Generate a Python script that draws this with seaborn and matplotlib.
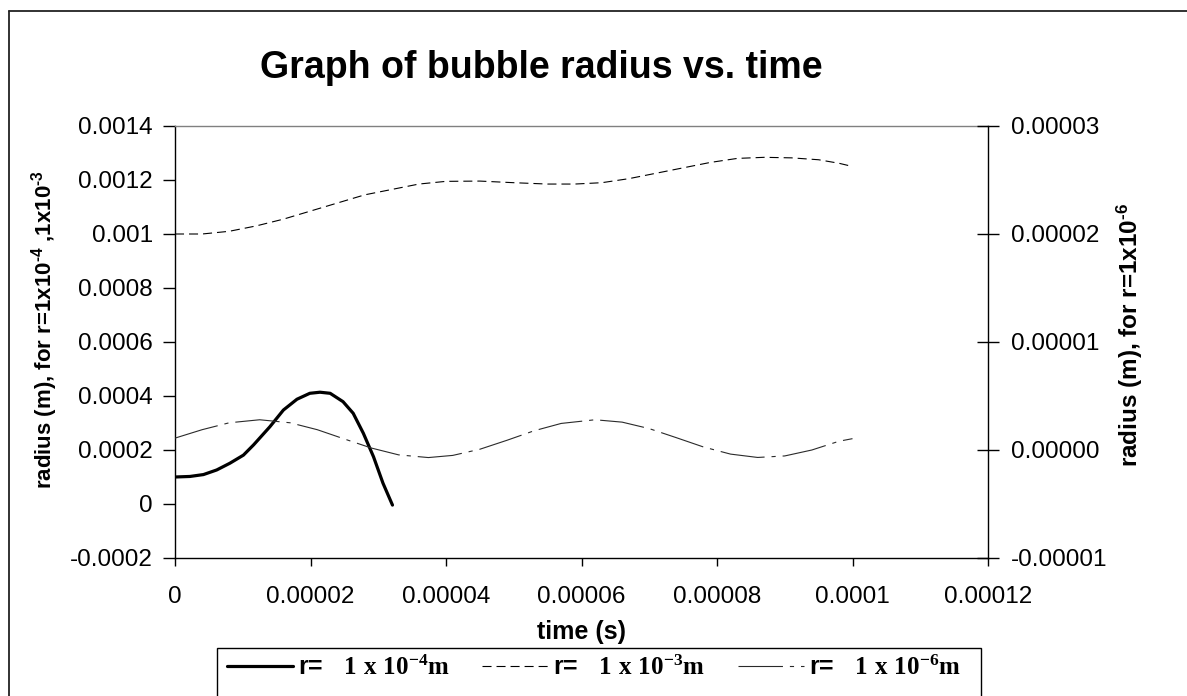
import matplotlib
matplotlib.use("Agg")
import matplotlib.pyplot as plt
import seaborn as sns
from matplotlib.ticker import FixedLocator, FuncFormatter
from matplotlib.patches import Rectangle
from matplotlib.lines import Line2D

# ---------------- data ----------------
# r = 1e-4 m bubble (left axis)
t_1e4 = [0, 2.2e-6, 4.2e-6, 6.15e-6, 8.1e-6, 10.1e-6, 11.6e-6, 14.0e-6, 16.0e-6,
         18.0e-6, 19.9e-6, 21.4e-6, 22.9e-6, 24.8e-6, 26.3e-6, 27.8e-6, 29.3e-6,
         30.7e-6, 32.1e-6]
r_1e4 = [1.00e-4, 1.02e-4, 1.09e-4, 1.26e-4, 1.51e-4, 1.81e-4, 2.19e-4, 2.86e-4,
         3.48e-4, 3.88e-4, 4.10e-4, 4.14e-4, 4.10e-4, 3.79e-4, 3.36e-4, 2.62e-4,
         1.75e-4, 0.77e-4, -0.04e-4]

# r = 1e-3 m bubble (left axis)
t_1e3 = [0, 4e-6, 8e-6, 12e-6, 16e-6, 20e-6, 24e-6, 28e-6, 32e-6, 36e-6, 40e-6,
         45e-6, 50e-6, 55e-6, 59e-6, 63e-6, 67e-6, 71e-6, 75e-6, 79e-6, 83e-6,
         87e-6, 91e-6, 95e-6, 98e-6, 100e-6]
r_1e3 = [1.000e-3, 1.000e-3, 1.010e-3, 1.030e-3, 1.055e-3, 1.085e-3, 1.115e-3,
         1.145e-3, 1.165e-3, 1.185e-3, 1.195e-3, 1.196e-3, 1.190e-3, 1.185e-3,
         1.185e-3, 1.190e-3, 1.205e-3, 1.225e-3, 1.245e-3, 1.265e-3, 1.280e-3,
         1.284e-3, 1.282e-3, 1.275e-3, 1.262e-3, 1.250e-3]

# r = 1e-6 m bubble (right axis)
t_1e6 = [0, 4e-6, 8e-6, 12.5e-6, 17e-6, 21e-6, 25e-6, 29e-6, 33e-6, 37.4e-6,
         41e-6, 45e-6, 49e-6, 53e-6, 57e-6, 62e-6, 66e-6, 70e-6, 74e-6, 78e-6,
         82e-6, 86e-6, 90e-6, 94e-6, 98e-6, 100e-6]
r_1e6 = [1.10e-6, 1.88e-6, 2.52e-6, 2.80e-6, 2.52e-6, 1.88e-6, 1.02e-6, 0.18e-6,
         -0.45e-6, -0.70e-6, -0.50e-6, 0.07e-6, 0.90e-6, 1.78e-6, 2.46e-6,
         2.80e-6, 2.58e-6, 1.98e-6, 1.14e-6, 0.28e-6, -0.38e-6, -0.69e-6,
         -0.55e-6, 0.00e-6, 0.81e-6, 1.05e-6]

x_ticks = [0, 0.00002, 0.00004, 0.00006, 0.00008, 0.0001, 0.00012]
y_left_ticks = [-0.0002, 0, 0.0002, 0.0004, 0.0006, 0.0008, 0.001, 0.0012, 0.0014]
y_right_ticks = [-0.00001, 0.0, 0.00001, 0.00002, 0.00003]

title = "Graph of bubble radius vs. time"
x_label = "time (s)"
y_left_label = r"radius (m), for r=1x10$^{\text{-}4}$ ,1x10$^{\text{-}3}$"
y_right_label = r"radius (m), for r=1x10$^{\text{-}6}$"
legend_labels = [r"r=   $\mathsf{1\ x\ 10^{-4}m}$",
                 r"r=   $\mathsf{1\ x\ 10^{-3}m}$",
                 r"r=   $\mathsf{1\ x\ 10^{-6}m}$"]

# ---------------- style ----------------
sns.set_theme(style="white")
plt.rcParams["font.family"] = ["Liberation Sans", "DejaVu Sans"]
plt.rcParams["mathtext.fontset"] = "custom"
plt.rcParams["mathtext.rm"] = "Liberation Sans:bold"
plt.rcParams["mathtext.bf"] = "Liberation Sans:bold"
plt.rcParams["mathtext.it"] = "Liberation Sans:bold:italic"
plt.rcParams["mathtext.sf"] = "Liberation Serif:bold"
plt.rcParams["lines.scale_dashes"] = False
for k in ["text.color", "axes.labelcolor", "xtick.color", "ytick.color", "axes.edgecolor"]:
    plt.rcParams[k] = "black"

W, H = 1187, 696
fig = plt.figure(figsize=(W / 100, H / 100), dpi=100)
fig.patch.set_facecolor("white")
L, R, T, B = 175, 988, 126, 558
ax = fig.add_axes([L / W, 1 - B / H, (R - L) / W, (B - T) / H])
ax2 = ax.twinx()

# ---------------- lines ----------------
sns.lineplot(x=t_1e4, y=r_1e4, ax=ax, color="black", linewidth=2.3,
             estimator=None, sort=False)
h1 = ax.lines[-1]
h1.set_solid_joinstyle("round")
sns.lineplot(x=t_1e3, y=r_1e3, ax=ax, color="black", linewidth=0.8,
             linestyle=(0, (6.5, 3.6)), estimator=None, sort=False)
h2 = ax.lines[-1]
sns.lineplot(x=t_1e6, y=r_1e6, ax=ax2, color="#2a2a2a", linewidth=0.8,
             linestyle=(0, (32, 5, 3, 5)), estimator=None, sort=False)
h3 = ax2.lines[-1]
for a in (ax, ax2):
    if a.get_legend() is not None:
        a.get_legend().remove()

# ---------------- axes ----------------
ax.set_xlim(0, 0.00012)
ax.set_ylim(-0.0002, 0.0014)
ax2.set_ylim(-0.00001, 0.00003)


def fmt_plain(v, pos):
    s = f"{v:.6f}".rstrip("0").rstrip(".")
    return "0" if s in ("", "-0", "0") else s


def fmt_right(v, pos):
    s = f"{v:.5f}"
    return "0.00000" if s == "-0.00000" else s


ax.xaxis.set_major_locator(FixedLocator(x_ticks))
ax.xaxis.set_major_formatter(FuncFormatter(fmt_plain))
ax.yaxis.set_major_locator(FixedLocator(y_left_ticks))
ax.yaxis.set_major_formatter(FuncFormatter(fmt_plain))
ax2.yaxis.set_major_locator(FixedLocator(y_right_ticks))
ax2.yaxis.set_major_formatter(FuncFormatter(fmt_right))

ax.grid(False)
ax2.grid(False)
for s in ["left", "bottom"]:
    ax.spines[s].set_color("black")
    ax.spines[s].set_linewidth(1.0)
ax.spines["top"].set_color("#808080")
ax.spines["top"].set_linewidth(1.0)
ax.spines["right"].set_visible(False)
for s in ["left", "top", "bottom"]:
    ax2.spines[s].set_visible(False)
ax2.spines["right"].set_color("black")
ax2.spines["right"].set_linewidth(1.0)

ax.tick_params(axis="y", which="major", direction="out", length=9, width=1,
               pad=7, labelsize=17.5, left=True, colors="black")
ax.tick_params(axis="x", which="major", direction="out", length=6, width=1,
               pad=14, labelsize=17.5, bottom=True, colors="black")
ax2.tick_params(axis="y", which="major", direction="inout", length=16, width=1,
                pad=8.5, labelsize=17.5, right=True, colors="black")

ax.set_xlabel(x_label, fontsize=18, fontweight="bold")
ax.xaxis.set_label_coords(0.5, (B - 620) / (B - T))
ax.set_ylabel(y_left_label, fontsize=16, fontweight="bold", va="center")
ax.yaxis.set_label_coords((45 - L) / (R - L), (B - 330) / (B - T))
ax2.set_ylabel(y_right_label, fontsize=17.5, fontweight="bold", va="center",
               rotation=90)
ax2.yaxis.set_label_coords((1130 - L) / (R - L), (B - 335) / (B - T))

fig.text(541 / W, 1 - 78 / H, title, ha="center", va="baseline",
         fontsize=27, fontweight="bold")

# ---------------- legend ----------------
leg = fig.legend([h1, h2, h3], legend_labels, loc="center left",
                 bbox_to_anchor=(227 / W, 1 - 668 / H), ncol=3, frameon=False,
                 borderpad=0, borderaxespad=0, handlelength=2.64,
                 handletextpad=0.2, columnspacing=1.3,
                 prop={"family": "Liberation Sans", "weight": "bold", "size": 18})
fig.add_artist(Rectangle((217 / W, -0.1), (981 - 217) / W, 0.1 + (1 - 648 / H),
                         transform=fig.transFigure, fill=False,
                         edgecolor="black", linewidth=1.0))

# outer chart border: only its left and top edges fall inside the picture
fig.add_artist(Line2D([9 / W, 9 / W], [-0.05, 1 - 11 / H], transform=fig.transFigure,
                      color="#222222", linewidth=1.3))
fig.add_artist(Line2D([9 / W, 1.05], [1 - 11 / H, 1 - 11 / H], transform=fig.transFigure,
                      color="#222222", linewidth=1.3))

fig.savefig("out.png", dpi=100)
